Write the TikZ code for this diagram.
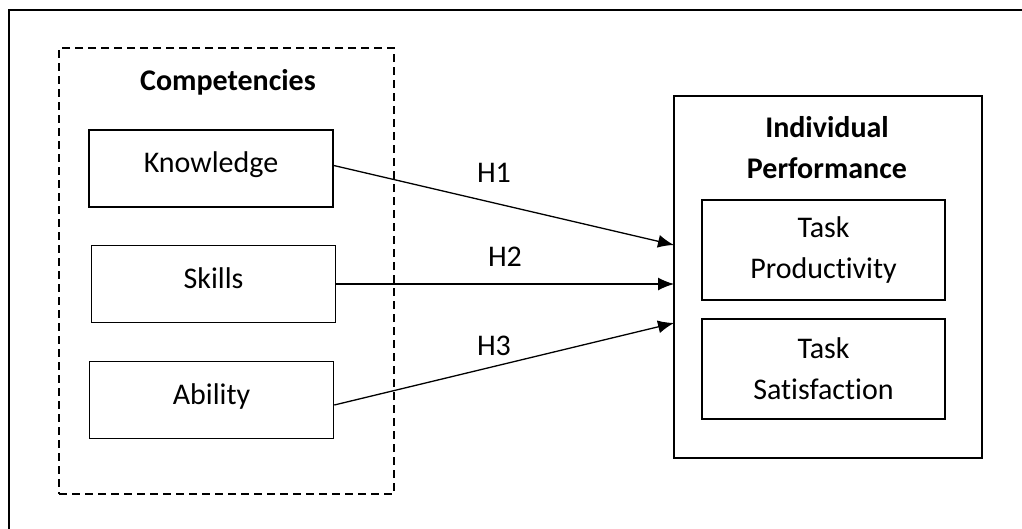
\documentclass[tikz,border=0pt]{standalone}
\usepackage{fontspec}
\setmainfont{Carlito}[Ligatures=NoCommon]
\usetikzlibrary{arrows.meta,positioning}
\newcommand{\diagfont}{\fontsize{30}{41}\selectfont}
\tikzset{
    box/.style={rectangle, draw, line width=1.6pt, minimum width=244pt, minimum height=77pt, text centered, inner sep=0pt, text depth=12pt},
    inbox/.style={rectangle, draw, line width=1.6pt, minimum width=243pt, minimum height=100pt, text width=240pt, align=center, inner sep=0pt},
    dashbox/.style={rectangle, draw, line width=1.6pt, dash pattern=on 8pt off 5pt, minimum width=335pt, minimum height=446pt},
    outerbox/.style={rectangle, draw, line width=1.6pt, minimum width=308pt, minimum height=362pt},
    title/.style={font=\diagfont\bfseries, align=center},
    hyp/.style={inner sep=0pt},
    line/.style={draw, -{Latex[length=16pt,width=13pt]}, line width=1.3pt}
}
\begin{document}
\begin{tikzpicture}[x=1pt, y=-1pt, font=\diagfont]
    \useasboundingbox (0,0) rectangle (1022,528);
    \draw [line width=2pt] (9,540) |- (1040,10);

    \node [dashbox] (comp) at (226.5,271) {};
    \node [title] (comptitle) at (228,82) {Competencies};
    \node [box] (knowledge) at (211,168.5) {Knowledge};
    \node [box] (skills) at (213.5,284) {Skills};
    \node [box] (ability) at (211.5,400) {Ability};

    \node [outerbox] (perf) at (828,277) {};
    \node [title] (perftitle) at (827,148) {Individual\\Performance};
    \node [inbox] (prod) at (823.5,250) {Task\\Productivity};
    \node [inbox] (satis) at (823.5,369) {Task\\Satisfaction};

    \coordinate (in1) at (674,245);
    \coordinate (in2) at (674,284);
    \coordinate (in3) at (674,323);

    \path [line] (knowledge.east) ++(0,-3) -- (in1);
    \path [line] (skills.east) -- (in2);
    \path [line] (ability.east) ++(0,5) -- (in3);

    \node [hyp] (h1) at (494,173) {H1};
    \node [hyp] (h2) at (505,257) {H2};
    \node [hyp] (h3) at (494,346) {H3};
\end{tikzpicture}
\end{document}
